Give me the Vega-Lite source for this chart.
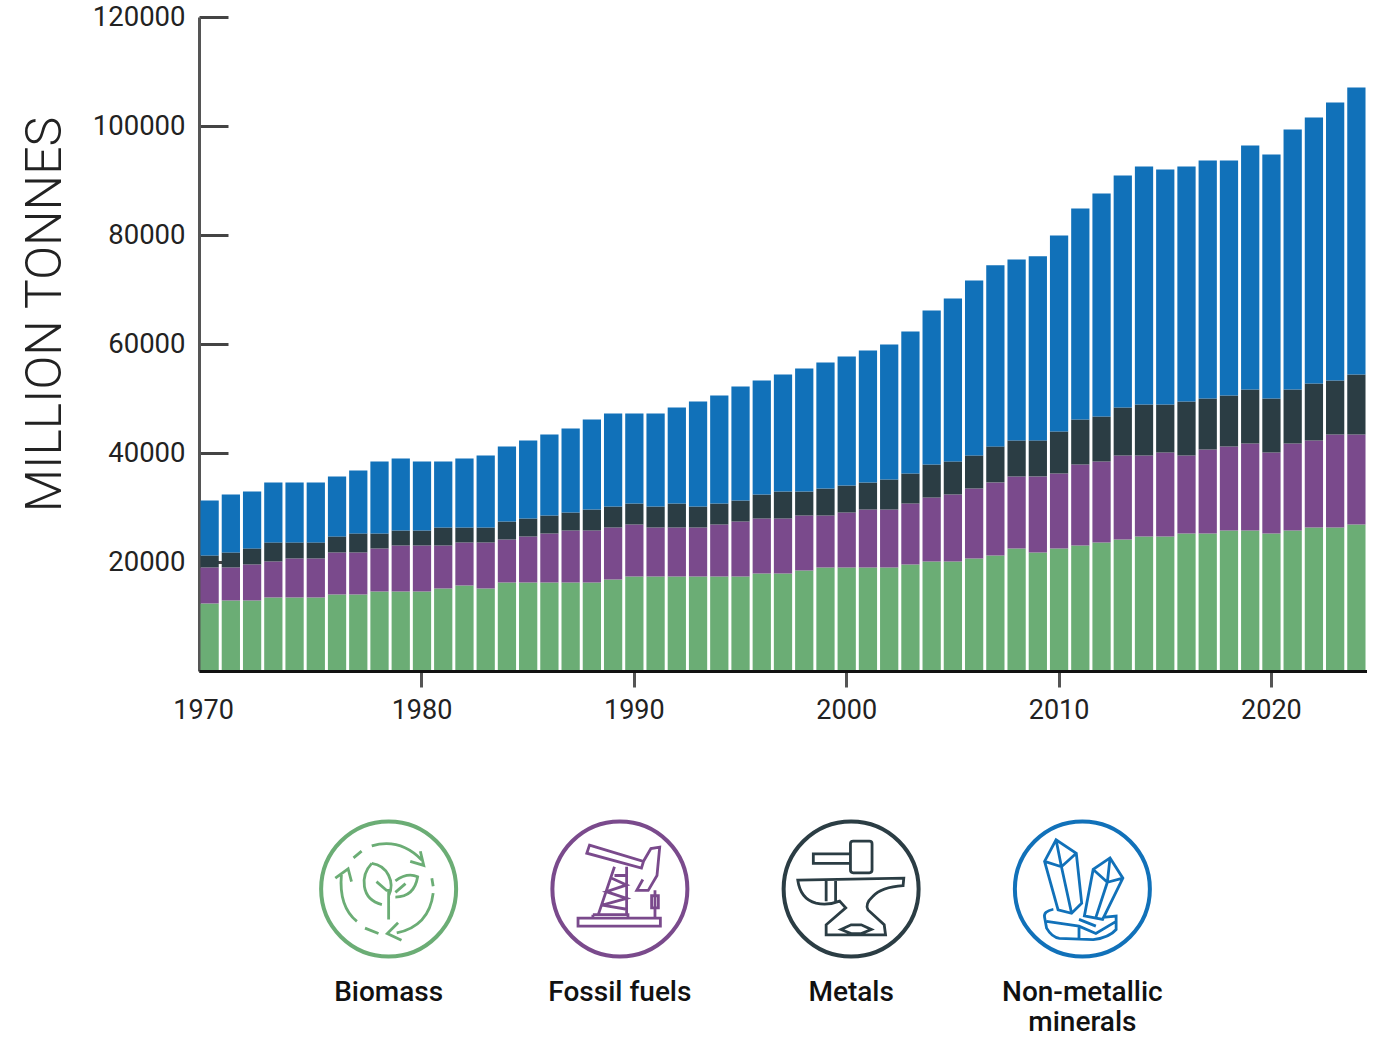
{
"$schema":"https://vega.github.io/schema/vega-lite/v6.json",
"background":"white",
"padding":{"left":19,"top":3,"right":0,"bottom":0},
"spacing":17,
"config":{"view":{"stroke":null},"font":"Roboto"},
"datasets":{
"materials":[
{"year":1970,"Biomass":12390,"Fossil fuels":6610,"Metals":2200,"Non-metallic minerals":10090},
{"year":1971,"Biomass":12940,"Fossil fuels":6060,"Metals":2750,"Non-metallic minerals":10640},
{"year":1972,"Biomass":12940,"Fossil fuels":6610,"Metals":2940,"Non-metallic minerals":10460},
{"year":1973,"Biomass":13490,"Fossil fuels":6610,"Metals":3490,"Non-metallic minerals":11010},
{"year":1974,"Biomass":13490,"Fossil fuels":7160,"Metals":2940,"Non-metallic minerals":11010},
{"year":1975,"Biomass":13490,"Fossil fuels":7160,"Metals":2940,"Non-metallic minerals":11010},
{"year":1976,"Biomass":14040,"Fossil fuels":7710,"Metals":2940,"Non-metallic minerals":11010},
{"year":1977,"Biomass":14040,"Fossil fuels":7710,"Metals":3490,"Non-metallic minerals":11560},
{"year":1978,"Biomass":14590,"Fossil fuels":7890,"Metals":2750,"Non-metallic minerals":13210},
{"year":1979,"Biomass":14590,"Fossil fuels":8440,"Metals":2750,"Non-metallic minerals":13210},
{"year":1980,"Biomass":14590,"Fossil fuels":8440,"Metals":2750,"Non-metallic minerals":12660},
{"year":1981,"Biomass":15140,"Fossil fuels":7890,"Metals":3300,"Non-metallic minerals":12110},
{"year":1982,"Biomass":15690,"Fossil fuels":7890,"Metals":2750,"Non-metallic minerals":12660},
{"year":1983,"Biomass":15140,"Fossil fuels":8440,"Metals":2750,"Non-metallic minerals":13210},
{"year":1984,"Biomass":16240,"Fossil fuels":7890,"Metals":3300,"Non-metallic minerals":13760},
{"year":1985,"Biomass":16240,"Fossil fuels":8440,"Metals":3300,"Non-metallic minerals":14310},
{"year":1986,"Biomass":16240,"Fossil fuels":8990,"Metals":3300,"Non-metallic minerals":14860},
{"year":1987,"Biomass":16240,"Fossil fuels":9540,"Metals":3300,"Non-metallic minerals":15410},
{"year":1988,"Biomass":16240,"Fossil fuels":9540,"Metals":3850,"Non-metallic minerals":16520},
{"year":1989,"Biomass":16790,"Fossil fuels":9540,"Metals":3850,"Non-metallic minerals":17070},
{"year":1990,"Biomass":17340,"Fossil fuels":9540,"Metals":3850,"Non-metallic minerals":16520},
{"year":1991,"Biomass":17340,"Fossil fuels":8990,"Metals":3850,"Non-metallic minerals":17070},
{"year":1992,"Biomass":17340,"Fossil fuels":8990,"Metals":4400,"Non-metallic minerals":17620},
{"year":1993,"Biomass":17340,"Fossil fuels":8990,"Metals":3850,"Non-metallic minerals":19270},
{"year":1994,"Biomass":17340,"Fossil fuels":9540,"Metals":3850,"Non-metallic minerals":19820},
{"year":1995,"Biomass":17340,"Fossil fuels":10090,"Metals":3850,"Non-metallic minerals":20920},
{"year":1996,"Biomass":17890,"Fossil fuels":10090,"Metals":4400,"Non-metallic minerals":20920},
{"year":1997,"Biomass":17890,"Fossil fuels":10090,"Metals":4950,"Non-metallic minerals":21470},
{"year":1998,"Biomass":18440,"Fossil fuels":10090,"Metals":4400,"Non-metallic minerals":22570},
{"year":1999,"Biomass":18990,"Fossil fuels":9540,"Metals":4950,"Non-metallic minerals":23120},
{"year":2000,"Biomass":18990,"Fossil fuels":10090,"Metals":4950,"Non-metallic minerals":23670},
{"year":2001,"Biomass":18990,"Fossil fuels":10640,"Metals":4950,"Non-metallic minerals":24220},
{"year":2002,"Biomass":18990,"Fossil fuels":10640,"Metals":5510,"Non-metallic minerals":24770},
{"year":2003,"Biomass":19540,"Fossil fuels":11190,"Metals":5510,"Non-metallic minerals":26060},
{"year":2004,"Biomass":20090,"Fossil fuels":11740,"Metals":6060,"Non-metallic minerals":28260},
{"year":2005,"Biomass":20090,"Fossil fuels":12300,"Metals":6060,"Non-metallic minerals":29910},
{"year":2006,"Biomass":20640,"Fossil fuels":12850,"Metals":6060,"Non-metallic minerals":32110},
{"year":2007,"Biomass":21200,"Fossil fuels":13400,"Metals":6610,"Non-metallic minerals":33220},
{"year":2008,"Biomass":22480,"Fossil fuels":13210,"Metals":6610,"Non-metallic minerals":33220},
{"year":2009,"Biomass":21750,"Fossil fuels":13950,"Metals":6610,"Non-metallic minerals":33770},
{"year":2010,"Biomass":22480,"Fossil fuels":13760,"Metals":7710,"Non-metallic minerals":35970},
{"year":2011,"Biomass":23030,"Fossil fuels":14860,"Metals":8260,"Non-metallic minerals":38720},
{"year":2012,"Biomass":23580,"Fossil fuels":14860,"Metals":8260,"Non-metallic minerals":40920},
{"year":2013,"Biomass":24130,"Fossil fuels":15410,"Metals":8810,"Non-metallic minerals":42570},
{"year":2014,"Biomass":24680,"Fossil fuels":14860,"Metals":9360,"Non-metallic minerals":43680},
{"year":2015,"Biomass":24680,"Fossil fuels":15410,"Metals":8810,"Non-metallic minerals":43120},
{"year":2016,"Biomass":25230,"Fossil fuels":14310,"Metals":9910,"Non-metallic minerals":43120},
{"year":2017,"Biomass":25230,"Fossil fuels":15410,"Metals":9360,"Non-metallic minerals":43680},
{"year":2018,"Biomass":25780,"Fossil fuels":15410,"Metals":9360,"Non-metallic minerals":43120},
{"year":2019,"Biomass":25780,"Fossil fuels":15970,"Metals":9910,"Non-metallic minerals":44780},
{"year":2020,"Biomass":25230,"Fossil fuels":14860,"Metals":9910,"Non-metallic minerals":44780},
{"year":2021,"Biomass":25780,"Fossil fuels":15970,"Metals":9910,"Non-metallic minerals":47710},
{"year":2022,"Biomass":26330,"Fossil fuels":15970,"Metals":10460,"Non-metallic minerals":48810},
{"year":2023,"Biomass":26330,"Fossil fuels":17070,"Metals":9910,"Non-metallic minerals":51020},
{"year":2024,"Biomass":26880,"Fossil fuels":16520,"Metals":11010,"Non-metallic minerals":52670}
],
"key":[
{"category":"Biomass","label":"Biomass"},
{"category":"Fossil fuels","label":"Fossil fuels"},
{"category":"Metals","label":"Metals"},
{"category":"Non-metallic minerals","label":"Non-metallic\nminerals"}
]
},
"vconcat":[
{
"width":1168,"height":654,
"data":{"name":"materials"},
"transform":[{"fold":["Biomass","Fossil fuels","Metals","Non-metallic minerals"],"as":["category","value"]}],
"mark":{"type":"bar"},
"encoding":{
"x":{"field":"year","type":"ordinal","scale":{"paddingInner":0.14,"paddingOuter":0.07},
"axis":{"title":null,"values":[1970,1980,1990,2000,2010,2020],"labelAngle":0,"labelFont":"Roboto","labelFontSize":27,"labelFontWeight":400,"labelColor":"#222","labelPadding":10,
"labelOffset":{"condition":{"test":"datum.value==1970","value":-6},"value":0},
"tickSize":16,"tickWidth":3,"tickColor":{"condition":{"test":"datum.value==1970","value":"transparent"},"value":"#555"},"domainColor":"#111","domainWidth":3,"zindex":1}},
"y":{"field":"value","type":"quantitative","stack":"zero","scale":{"domain":[0,120000],"nice":false},
"axis":{"title":"MILLION TONNES","titleFont":"Roboto","titleFontSize":50,"titleFontWeight":300,"titleColor":"#222","titleX":-129,"titleY":297,
"values":[0,20000,40000,60000,80000,100000,120000],"labelExpr":"datum.value==0?'':format(datum.value,'d')","labelFont":"Roboto","labelFontSize":27.5,"labelFontWeight":400,"labelColor":"#222","labelPadding":43,
"grid":false,"tickSize":-29,"tickWidth":3,"tickColor":"#444","domainColor":"#555","domainWidth":3}},
"color":{"field":"category","type":"nominal","scale":{"domain":["Biomass","Fossil fuels","Metals","Non-metallic minerals"],"range":["#6BAD75","#7A4A8C","#2B3D44","#1171B9"]},"legend":null},
"order":{"field":"category","sort":"ascending"}
}
},
{
"width":1168,"height":298,
"data":{"name":"key"},
"encoding":{
"x":{"field":"category","type":"nominal","sort":null,"scale":{"range":[74,999],"paddingInner":0,"paddingOuter":0},"axis":null},
"color":{"field":"category","type":"nominal","scale":{"domain":["Biomass","Fossil fuels","Metals","Non-metallic minerals"],"range":["#6BAD75","#7A4A8C","#2B3D44","#1171B9"]},"legend":null}
},
"layer":[
{"mark":{"type":"point","shape":"circle","filled":false,"size":18225,"strokeWidth":4,"opacity":1}},
{"mark":{"type":"point","filled":false,"size":18225,"strokeWidth":2.8,"opacity":1},
"encoding":{"shape":{"field":"category","type":"nominal","legend":null,"scale":{"domain":["Biomass","Fossil fuels","Metals","Non-metallic minerals"],"range":[
"M-0.52,-0.46L-0.40,-0.56M-0.25,-0.64Q0.17,-0.76 0.49,-0.43M0.47,-0.56L0.52,-0.35L0.32,-0.41M0.64,-0.16L0.66,-0.04M0.66,0.06Q0.6,0.55 0.12,0.65M0.14,0.50L-0.02,0.66L0.19,0.76M-0.35,0.58L-0.15,0.66M-0.47,0.48Q-0.74,0.26 -0.70,-0.21M-0.79,-0.16L-0.6,-0.3L-0.55,-0.11M-0.25,-0.38C-0.42,-0.2 -0.42,0.15 -0.1,0.23M-0.25,-0.38C-0.02,-0.35 0.1,-0.1 0,0.1M0,0.45L0,0M-0.18,-0.11L-0.02,0.03M0.1,-0.12Q0.28,-0.25 0.43,-0.18Q0.38,0.12 0.1,0.12M0.1,0.05L0.25,-0.08",
"M-0.45,-0.65L0.35,-0.41L0.32,-0.31L-0.49,-0.53ZM0.35,-0.41L0.46,-0.6L0.59,-0.62L0.55,-0.2L0.42,0.02L0.25,0.02L0.34,-0.14M-0.08,-0.33L-0.32,0.38M0.1,-0.33L0.1,0.38M-0.12,-0.16L0.1,-0.06L-0.2,0.04L0.1,0.14L-0.26,0.24L0.1,0.3M-0.08,-0.2L0.1,-0.2M-0.62,0.43L0.6,0.43L0.6,0.55L-0.62,0.55ZM-0.4,0.38L0.12,0.38L0.12,0.43M-0.4,0.38L-0.4,0.43M0.52,0.02L0.52,0.43M0.47,0.1L0.57,0.1L0.57,0.28L0.47,0.28Z",
"M0.03,-0.71L0.27,-0.71Q0.31,-0.71 0.31,-0.67L0.31,-0.28Q0.31,-0.24 0.27,-0.24L0.03,-0.24Q-0.01,-0.24 -0.01,-0.28L-0.01,-0.67Q-0.01,-0.71 0.03,-0.71ZM-0.01,-0.52L-0.56,-0.52L-0.56,-0.38L-0.01,-0.38M-0.79,-0.13L0.78,-0.16L0.77,-0.05Q0.45,-0.03 0.32,0.11Q0.2,0.22 0.25,0.31L0.49,0.53L0.51,0.68L-0.37,0.68L-0.37,0.53L-0.08,0.28L-0.17,0.18Q-0.35,0.25 -0.52,0.21Q-0.75,0.15 -0.79,-0.13ZM-0.37,-0.13L-0.37,0.18M-0.23,-0.13L-0.23,0.18M-0.15,0.6L0,0.53L0.15,0.53L0.3,0.6L0.15,0.66L0,0.66Z",
"M-0.56,-0.41L-0.39,-0.73L-0.09,-0.53L-0.01,0.21L-0.16,0.36L-0.36,0.31ZM-0.39,-0.73L-0.31,-0.33M-0.56,-0.41L-0.31,-0.33L-0.09,-0.53M-0.31,-0.33L-0.16,0.36M0.41,-0.46L0.6,-0.16L0.3,0.45L0.03,0.4L0.16,-0.29ZM0.41,-0.46L0.37,-0.1M0.16,-0.29L0.37,-0.1L0.6,-0.16M0.37,-0.1L0.2,0.42M-0.43,0.3Q-0.58,0.33 -0.56,0.42L-0.53,0.58Q-0.45,0.72 -0.34,0.73L0.16,0.75Q0.4,0.72 0.5,0.6L0.5,0.4L0.3,0.42M-0.53,0.48L-0.05,0.55L0.2,0.66L0.5,0.48M-0.05,0.55L-0.05,0.74M-0.05,0.45L0.2,0.55"
]}}}},
{"mark":{"type":"text","font":"Roboto","fontSize":28,"fontWeight":500,"color":"#111","align":"center","baseline":"top","dy":90,"lineBreak":"\n","lineHeight":30},
"encoding":{"text":{"field":"label","type":"nominal"},"color":{"value":"#111"}}}
]
}
]
}
